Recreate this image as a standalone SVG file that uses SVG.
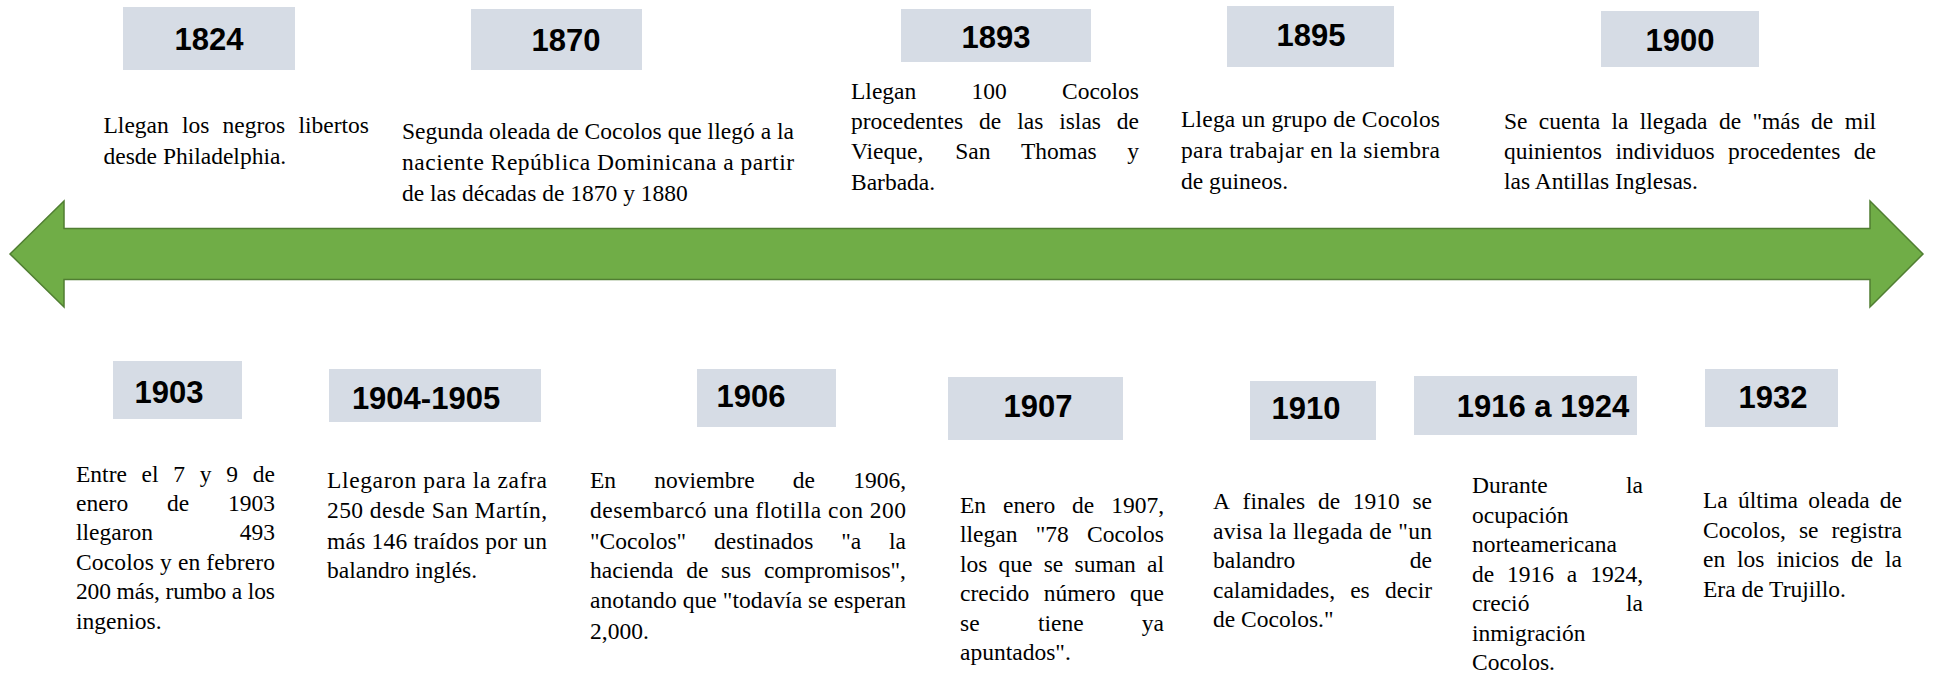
<svg xmlns="http://www.w3.org/2000/svg" width="1933" height="675" viewBox="0 0 1933 675">
<style>
.box{fill:#D6DCE5}
.yr{font-family:"Liberation Sans",Arial,sans-serif;font-weight:bold;font-size:31px;fill:#000;text-anchor:middle}
.tx{font-family:"Liberation Serif","Times New Roman",serif;font-size:23.5px;fill:#000}
.e{text-anchor:end}
.arrow{fill:#70AD47;stroke:#507E32;stroke-width:1.5}
</style>
<rect width="1933" height="675" fill="#fff"/>
<g id="connectors">
<path class="arrow" d="M10,254 L64,201 L64,228.5 L1870,228.5 L1870,201 L1923,254 L1870,307 L1870,279.5 L64,279.5 L64,307 Z"/>
</g>
<g id="n1824">
<rect class="box" x="123" y="7" width="172" height="63"/>
<text class="yr" x="209" y="50">1824</text>
<text class="tx" y="133"><tspan x="103.5">Llegan</tspan><tspan x="182">los</tspan><tspan x="222.6">negros</tspan><tspan x="369" class="e">libertos</tspan></text>
<text class="tx" x="103.5" y="164">desde Philadelphia.</text>
</g>
<g id="n1870">
<rect class="box" x="471" y="9" width="171" height="61"/>
<text class="yr" x="566" y="50.5">1870</text>
<text class="tx" x="402" y="139" textLength="392" lengthAdjust="spacing">Segunda oleada de Cocolos que llegó a la</text>
<text class="tx" x="402" y="170" textLength="392" lengthAdjust="spacing">naciente República Dominicana a partir</text>
<text class="tx" x="402" y="201">de las décadas de 1870 y 1880</text>
</g>
<g id="n1893">
<rect class="box" x="901" y="9" width="190" height="53"/>
<text class="yr" x="996" y="48">1893</text>
<text class="tx" y="99"><tspan x="851">Llegan</tspan><tspan x="971.5">100</tspan><tspan x="1139" class="e">Cocolos</tspan></text>
<text class="tx" y="129"><tspan x="851">procedentes</tspan><tspan x="979.1">de</tspan><tspan x="1017.2">las</tspan><tspan x="1059.2">islas</tspan><tspan x="1139" class="e">de</tspan></text>
<text class="tx" y="159"><tspan x="851">Vieque,</tspan><tspan x="955.2">San</tspan><tspan x="1021">Thomas</tspan><tspan x="1139" class="e">y</tspan></text>
<text class="tx" x="851" y="190">Barbada.</text>
</g>
<g id="n1895">
<rect class="box" x="1227" y="6" width="167" height="61"/>
<text class="yr" x="1311" y="45.5">1895</text>
<text class="tx" x="1181" y="127" textLength="259" lengthAdjust="spacing">Llega un grupo de Cocolos</text>
<text class="tx" x="1181" y="158" textLength="259" lengthAdjust="spacing">para trabajar en la siembra</text>
<text class="tx" x="1181" y="189">de guineos.</text>
</g>
<g id="n1900">
<rect class="box" x="1601" y="11" width="158" height="56"/>
<text class="yr" x="1680" y="50.5">1900</text>
<text class="tx" y="129"><tspan x="1504">Se</tspan><tspan x="1538.8">cuenta</tspan><tspan x="1611.4">la</tspan><tspan x="1639.7">llegada</tspan><tspan x="1718.9">de</tspan><tspan x="1752.4">"más</tspan><tspan x="1811.1">de</tspan><tspan x="1876" class="e">mil</tspan></text>
<text class="tx" y="159"><tspan x="1504">quinientos</tspan><tspan x="1615.4">individuos</tspan><tspan x="1728.1">procedentes</tspan><tspan x="1876" class="e">de</tspan></text>
<text class="tx" x="1504" y="189">las Antillas Inglesas.</text>
</g>
<g id="n1903">
<rect class="box" x="113" y="361" width="129" height="58"/>
<text class="yr" x="169" y="402.5">1903</text>
<text class="tx" y="482"><tspan x="76">Entre</tspan><tspan x="141.6">el</tspan><tspan x="173.3">7</tspan><tspan x="199.8">y</tspan><tspan x="226.2">9</tspan><tspan x="275" class="e">de</tspan></text>
<text class="tx" y="511"><tspan x="76">enero</tspan><tspan x="167">de</tspan><tspan x="275" class="e">1903</tspan></text>
<text class="tx" y="540"><tspan x="76">llegaron</tspan><tspan x="275" class="e">493</tspan></text>
<text class="tx" x="76" y="570" textLength="199" lengthAdjust="spacing">Cocolos y en febrero</text>
<text class="tx" x="76" y="599" textLength="199" lengthAdjust="spacing">200 más, rumbo a los</text>
<text class="tx" x="76" y="629">ingenios.</text>
</g>
<g id="n1904">
<rect class="box" x="329" y="369" width="212" height="53"/>
<text class="yr" x="426" y="409">1904-1905</text>
<text class="tx" x="327" y="488" textLength="220" lengthAdjust="spacing">Llegaron para la zafra</text>
<text class="tx" x="327" y="518" textLength="220" lengthAdjust="spacing">250 desde San Martín,</text>
<text class="tx" x="327" y="549" textLength="220" lengthAdjust="spacing">más 146 traídos por un</text>
<text class="tx" x="327" y="578">balandro inglés.</text>
</g>
<g id="n1906">
<rect class="box" x="697" y="369" width="139" height="58"/>
<text class="yr" x="751" y="407">1906</text>
<text class="tx" y="488"><tspan x="590">En</tspan><tspan x="654.2">noviembre</tspan><tspan x="792.8">de</tspan><tspan x="906" class="e">1906,</tspan></text>
<text class="tx" x="590" y="518" textLength="316" lengthAdjust="spacing">desembarcó una flotilla con 200</text>
<text class="tx" y="549"><tspan x="590">"Cocolos"</tspan><tspan x="714.1">destinados</tspan><tspan x="841.2">"a</tspan><tspan x="906" class="e">la</tspan></text>
<text class="tx" y="578"><tspan x="590">hacienda</tspan><tspan x="686.2">de</tspan><tspan x="721.1">sus</tspan><tspan x="906" class="e">compromisos",</tspan></text>
<text class="tx" x="590" y="608" textLength="316" lengthAdjust="spacing">anotando que "todavía se esperan</text>
<text class="tx" x="590" y="639">2,000.</text>
</g>
<g id="n1907">
<rect class="box" x="948" y="377" width="175" height="63"/>
<text class="yr" x="1038" y="416.5">1907</text>
<text class="tx" y="513"><tspan x="960">En</tspan><tspan x="1003">enero</tspan><tspan x="1072.1">de</tspan><tspan x="1164" class="e">1907,</tspan></text>
<text class="tx" y="542"><tspan x="960">llegan</tspan><tspan x="1035.7">"78</tspan><tspan x="1164" class="e">Cocolos</tspan></text>
<text class="tx" y="572"><tspan x="960">los</tspan><tspan x="998.6">que</tspan><tspan x="1043.7">se</tspan><tspan x="1074.5">suman</tspan><tspan x="1164" class="e">al</tspan></text>
<text class="tx" y="601"><tspan x="960">crecido</tspan><tspan x="1043.8">número</tspan><tspan x="1164" class="e">que</tspan></text>
<text class="tx" y="631"><tspan x="960">se</tspan><tspan x="1037.9">tiene</tspan><tspan x="1164" class="e">ya</tspan></text>
<text class="tx" x="960" y="660">apuntados".</text>
</g>
<g id="n1910">
<rect class="box" x="1250" y="381" width="126" height="59"/>
<text class="yr" x="1306" y="419">1910</text>
<text class="tx" y="509"><tspan x="1213">A</tspan><tspan x="1242.6">finales</tspan><tspan x="1317.9">de</tspan><tspan x="1352.7">1910</tspan><tspan x="1432" class="e">se</tspan></text>
<text class="tx" x="1213" y="539" textLength="219" lengthAdjust="spacing">avisa la llegada de "un</text>
<text class="tx" y="568"><tspan x="1213">balandro</tspan><tspan x="1432" class="e">de</tspan></text>
<text class="tx" y="598"><tspan x="1213">calamidades,</tspan><tspan x="1350.2">es</tspan><tspan x="1432" class="e">decir</tspan></text>
<text class="tx" x="1213" y="627">de Cocolos."</text>
</g>
<g id="n1916">
<rect class="box" x="1414" y="376" width="223" height="59"/>
<text class="yr" x="1543" y="416.5">1916 a 1924</text>
<text class="tx" y="493"><tspan x="1472">Durante</tspan><tspan x="1643" class="e">la</tspan></text>
<text class="tx" x="1472" y="523">ocupación</text>
<text class="tx" x="1472" y="552">norteamericana</text>
<text class="tx" y="582"><tspan x="1472">de</tspan><tspan x="1507">1916</tspan><tspan x="1566.8">a</tspan><tspan x="1643" class="e">1924,</tspan></text>
<text class="tx" y="611"><tspan x="1472">creció</tspan><tspan x="1643" class="e">la</tspan></text>
<text class="tx" x="1472" y="641">inmigración</text>
<text class="tx" x="1472" y="670">Cocolos.</text>
</g>
<g id="n1932">
<rect class="box" x="1705" y="369" width="133" height="58"/>
<text class="yr" x="1773" y="408">1932</text>
<text class="tx" y="508"><tspan x="1703">La</tspan><tspan x="1738">última</tspan><tspan x="1808.3">oleada</tspan><tspan x="1902" class="e">de</tspan></text>
<text class="tx" y="538"><tspan x="1703">Cocolos,</tspan><tspan x="1798.9">se</tspan><tspan x="1902" class="e">registra</tspan></text>
<text class="tx" y="567"><tspan x="1703">en</tspan><tspan x="1737.1">los</tspan><tspan x="1776.4">inicios</tspan><tspan x="1851">de</tspan><tspan x="1902" class="e">la</tspan></text>
<text class="tx" x="1703" y="597">Era de Trujillo.</text>
</g>
</svg>
